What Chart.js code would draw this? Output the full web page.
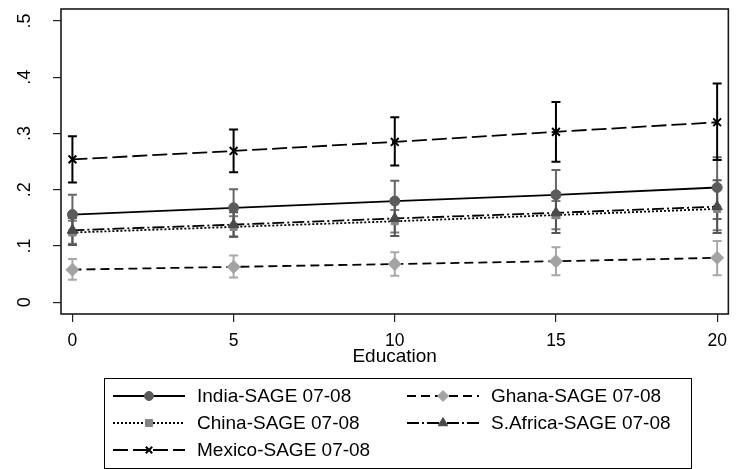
<!DOCTYPE html>
<html><head><meta charset="utf-8">
<script src="https://cdn.jsdelivr.net/npm/chart.js@4.4.1/dist/chart.umd.min.js"></script>
<style>html,body{margin:0;padding:0;background:#fff}</style>
</head><body>
<canvas id="c" width="736" height="469"></canvas>
<script>
// ---- data ----
const education = [0, 5, 10, 15, 20];
const xTicks = [0, 5, 10, 15, 20];
const yTicks = [0, 0.1, 0.2, 0.3, 0.4, 0.5];
const yTickLabels = ['0', '.1', '.2', '.3', '.4', '.5'];
const xTitle = 'Education';

const india    = [0.156, 0.168, 0.180, 0.191, 0.204];
const indiaLo  = [0.121, 0.134, 0.145, 0.150, 0.148];
const indiaHi  = [0.191, 0.201, 0.216, 0.235, 0.258];

const ghana    = [0.058, 0.063, 0.068, 0.073, 0.079];
const ghanaLo  = [0.040, 0.044, 0.047, 0.048, 0.048];
const ghanaHi  = [0.077, 0.083, 0.089, 0.098, 0.109];

const china    = [0.124, 0.134, 0.144, 0.155, 0.166];
const chinaLo  = [0.104, 0.116, 0.124, 0.130, 0.128];
const chinaHi  = [0.145, 0.153, 0.164, 0.180, 0.205];

const safrica   = [0.128, 0.138, 0.149, 0.159, 0.170];
const safricaLo = [0.102, 0.117, 0.118, 0.123, 0.123];
const safricaHi = [0.150, 0.160, 0.180, 0.195, 0.217];

const mexico   = [0.254, 0.269, 0.285, 0.303, 0.320];
const mexicoLo = [0.213, 0.231, 0.243, 0.250, 0.253];
const mexicoHi = [0.295, 0.307, 0.329, 0.356, 0.389];

const seriesNames = ['India-SAGE 07-08', 'Ghana-SAGE 07-08', 'China-SAGE 07-08', 'S.Africa-SAGE 07-08', 'Mexico-SAGE 07-08'];

const FONT = '"Liberation Sans", Arial, sans-serif';

function pts(v){ return education.map((x,i)=>({x:x, y:v[i]})); }

const datasets = [
  {label: seriesNames[0], data: pts(india), lo: indiaLo, hi: indiaHi,
   borderColor:'#000', borderWidth:1.8, borderDash:[],
   pointStyle:'circle', pointRadius:5, pointBackgroundColor:'#5c5c5c', pointBorderColor:'#5c5c5c', pointBorderWidth:1,
   errColor:'#666666', legendRadius:4.5, order:1},
  {label: seriesNames[1], data: pts(ghana), lo: ghanaLo, hi: ghanaHi,
   borderColor:'#000', borderWidth:1.8, borderDash:[9,5],
   pointStyle:'rectRot', pointRadius:6.5, pointBackgroundColor:'#a3a3a3', pointBorderColor:'#a3a3a3', pointBorderWidth:1,
   errColor:'#a8a8a8', legendRadius:5.5, order:5},
  {label: seriesNames[2], data: pts(china), lo: chinaLo, hi: chinaHi,
   borderColor:'#000', borderWidth:1.8, borderDash:[2,2],
   pointStyle:'rect', pointRadius:5, pointBackgroundColor:'#858585', pointBorderColor:'#858585', pointBorderWidth:1,
   errColor:'#7a7a7a', legendRadius:5, order:4},
  {label: seriesNames[3], data: pts(safrica), lo: safricaLo, hi: safricaHi,
   borderColor:'#000', borderWidth:1.8, borderDash:[12,3,2,3],
   pointStyle:'triangle', pointRadius:6, pointBackgroundColor:'#4a4a4a', pointBorderColor:'#4a4a4a', pointBorderWidth:1,
   errColor:'#555555', legendRadius:5.5, order:3},
  {label: seriesNames[4], data: pts(mexico), lo: mexicoLo, hi: mexicoHi,
   borderColor:'#000', borderWidth:1.8, borderDash:[15,5],
   pointStyle:'crossRot', pointRadius:5.5, pointBackgroundColor:'#000', pointBorderColor:'#000', pointBorderWidth:2,
   errColor:'#000000', legendRadius:4.5, order:2}
];
datasets.forEach(d=>{ d.fill=false; d.tension=0; d.pointHoverRadius=d.pointRadius; });

const errorBars = {
  id:'errorBars',
  beforeDatasetsDraw(chart){
    const ctx = chart.ctx, xs = chart.scales.x, ys = chart.scales.y;
    ctx.save();
    chart.data.datasets.forEach(ds=>{
      ctx.strokeStyle = ds.errColor; ctx.lineWidth = 2; ctx.setLineDash([]);
      ds.data.forEach((p,i)=>{
        const x = xs.getPixelForValue(p.x);
        const y1 = ys.getPixelForValue(ds.lo[i]);
        const y2 = ys.getPixelForValue(ds.hi[i]);
        ctx.beginPath();
        ctx.moveTo(x, y1); ctx.lineTo(x, y2);
        ctx.moveTo(x-4.5, y1); ctx.lineTo(x+4.5, y1);
        ctx.moveTo(x-4.5, y2); ctx.lineTo(x+4.5, y2);
        ctx.stroke();
      });
    });
    ctx.restore();
  }
};

const frameAndLabels = {
  id:'frameAndLabels',
  afterDraw(chart){
    const ctx = chart.ctx, a = chart.chartArea, ys = chart.scales.y;
    ctx.save();
    // frame
    ctx.strokeStyle = '#1a1a1a'; ctx.lineWidth = 1.6; ctx.setLineDash([]);
    ctx.strokeRect(a.left, a.top, a.right - a.left, a.bottom - a.top);
    // rotated y tick labels
    ctx.fillStyle = '#000';
    ctx.font = '18px ' + FONT;
    ctx.textAlign = 'center'; ctx.textBaseline = 'middle';
    yTicks.forEach((v,i)=>{
      const y = ys.getPixelForValue(v);
      ctx.save(); ctx.translate(25, y); ctx.rotate(-Math.PI/2);
      ctx.fillText(yTickLabels[i], 0, 0);
      ctx.restore();
    });
    // legend
    const box = {l:104, t:378, r:691, b:468};
    ctx.lineWidth = 1; ctx.strokeStyle = '#000';
    ctx.strokeRect(box.l+0.5, box.t+0.5, box.r-box.l, box.b-box.t);
    const cols = [{x0:113, x1:185, tx:197}, {x0:407, x1:479, tx:491}];
    const rows = [396, 423, 450];
    ctx.font = '19px ' + FONT; ctx.textAlign = 'left'; ctx.textBaseline = 'middle';
    chart.data.datasets.forEach((ds, k)=>{
      const c = cols[k % 2], y = rows[Math.floor(k/2)];
      ctx.save();
      ctx.strokeStyle = '#000'; ctx.lineWidth = 1.8; ctx.setLineDash(ds.borderDash);
      ctx.beginPath(); ctx.moveTo(c.x0, y); ctx.lineTo(c.x1, y); ctx.stroke();
      ctx.setLineDash([]);
      ctx.fillStyle = ds.pointBackgroundColor; ctx.strokeStyle = ds.pointBorderColor;
      ctx.lineWidth = ds.pointBorderWidth;
      Chart.helpers.drawPoint(ctx, {pointStyle: ds.pointStyle, radius: ds.legendRadius, rotation: 0, borderWidth: ds.pointBorderWidth}, (c.x0+c.x1)/2, y);
      ctx.restore();
      ctx.fillStyle = '#000';
      ctx.fillText(ds.label, c.tx, y + 1);
    });
    ctx.restore();
  }
};

new Chart(document.getElementById('c'), {
  type:'line',
  data:{datasets},
  plugins:[errorBars, frameAndLabels],
  options:{
    responsive:false, animation:false, devicePixelRatio:1,
    layout:{padding:{top:9, right:3, bottom:99, left:0}},
    plugins:{legend:{display:false}, tooltip:{enabled:false}},
    scales:{
      x:{type:'linear', min:-0.354, max:20.348,
         afterBuildTicks(s){ s.ticks = xTicks.map(v=>({value:v})); },
         afterFit(s){ s.height = 56; },
         grid:{drawOnChartArea:false, drawTicks:true, tickLength:8, color:'#222', lineWidth:1.2},
         border:{display:false},
         ticks:{padding:9, maxRotation:0, color:'#000', font:{family:FONT, size:17.5}, callback:v=>String(v)},
         title:{display:true, text:xTitle, color:'#000', font:{family:FONT, size:19}, padding:{top:0, bottom:2}}},
      y:{type:'linear', min:-0.0208, max:0.5213,
         afterBuildTicks(s){ s.ticks = yTicks.map(v=>({value:v})); },
         afterFit(s){ s.width = 61; },
         grid:{drawOnChartArea:false, drawTicks:true, tickLength:8, color:'#222', lineWidth:1.2},
         border:{display:false},
         ticks:{display:false}}
    }
  }
});
</script>
</body></html>
